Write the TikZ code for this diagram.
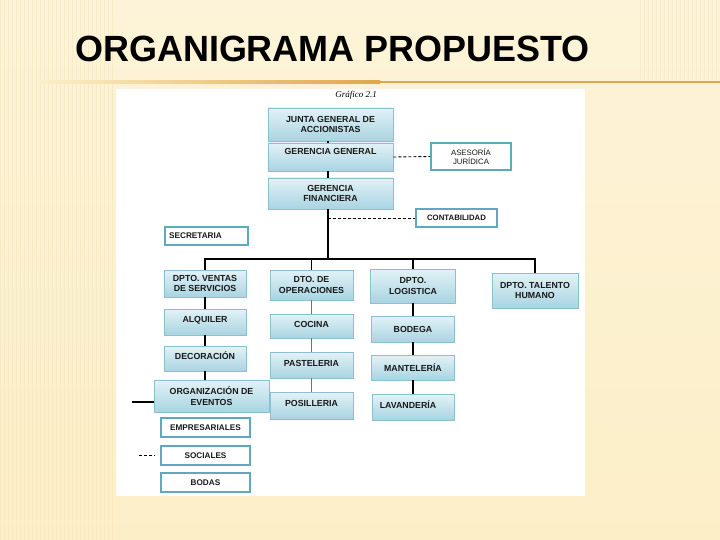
\documentclass[tikz,border=0pt]{standalone}
\usepackage{fontspec}
\setmainfont{Liberation Sans}
\newfontfamily\serifit{Liberation Serif}
\usetikzlibrary{calc}
\definecolor{bgcream}{HTML}{FCEFC8}
\definecolor{bgtop}{HTML}{FDF3D8}
\definecolor{stripe}{HTML}{F3E0B0}
\definecolor{rule}{HTML}{E0A64A}
\definecolor{boxtop}{HTML}{E2F2F7}
\definecolor{boxbot}{HTML}{A9D4E1}
\definecolor{boxline}{HTML}{8CC0D0}
\definecolor{tealline}{HTML}{5FA9BF}
\tikzset{
  orgbox/.style={draw=boxline, line width=0.8pt, top color=boxtop, bottom color=boxbot,
    align=center, font=\fontsize{8.8}{10.5}\selectfont\bfseries, inner sep=1pt,
    text=black!90},
  plainbox/.style={draw=tealline, line width=1.6pt, fill=white,
    align=center, font=\fontsize{8.2}{9.5}\selectfont\bfseries, inner sep=1pt,
    text=black!90},
  link/.style={line width=1.1pt, black},
  glink/.style={line width=1.3pt, black!55},
  mainlink/.style={line width=2pt, black},
  dlink/.style={line width=0.9pt, black, dash pattern=on 3pt off 2pt}
}
\begin{document}
\begin{tikzpicture}[x=1pt,y=-1pt]
\useasboundingbox (0,0) rectangle (720,540);
% background
\shade[top color=bgtop, bottom color=bgcream] (0,0) rectangle (720,540);
\foreach \x in {0,4,...,112} {\draw[stripe, line width=0.5pt, opacity=0.4] (\x,0) -- (\x,540);}
\foreach \x in {640,644,...,720} {\draw[stripe, line width=0.5pt, opacity=0.35] (\x,0) -- (\x,80);}
\shade[left color=bgcream, right color=rule] (40,81) rectangle (380,83.5);
\fill[rule] (380,81) rectangle (720,83.5);
% title
\node[anchor=base west, inner sep=0pt, font=\fontsize{36.5}{40}\selectfont\bfseries, xscale=0.985, text=black] (title) at (75,62) {ORGANIGRAMA PROPUESTO};
% white panel
\fill[white] (116,89) rectangle (585,496);
\node[font=\serifit\itshape\fontsize{9}{10}\selectfont, inner sep=0pt] (graf) at (356,95) {Gráfico 2.1};

% top boxes
\node[orgbox, minimum width=125pt, minimum height=33pt] (junta) at (330.5,124.5) {JUNTA GENERAL DE\\ACCIONISTAS};
\node[orgbox, minimum width=125pt, minimum height=28pt, text depth=11pt] (gg) at (330.5,157) {GERENCIA GENERAL};
\node[orgbox, minimum width=125pt, minimum height=31pt] (gf) at (330.5,193.5) {GERENCIA\\FINANCIERA};
\node[plainbox, font=\fontsize{7.8}{9.5}\selectfont, minimum width=80pt, minimum height=27pt] (ases) at (471,156.5) {ASESORÍA\\JURÍDICA};
\node[plainbox, line width=1.2pt, font=\fontsize{7.8}{9}\selectfont\bfseries, minimum width=81pt, minimum height=18pt] (conta) at (456.5,218) {CONTABILIDAD};
\node[plainbox, line width=1.2pt, minimum width=83pt, minimum height=18pt] (secre) at (206.5,236) {SECRETARIA\hspace{22pt}};

% departments
\node[orgbox, minimum width=82pt, minimum height=27pt] (ventas) at (205,283.5) {DPTO. VENTAS\\DE SERVICIOS};
\node[orgbox, minimum width=83pt, minimum height=30pt] (ope) at (311.5,285) {DTO. DE\\OPERACIONES};
\node[orgbox, minimum width=85pt, minimum height=34pt] (logis) at (413,286) {DPTO.\\LOGISTICA};
\node[orgbox, minimum width=86pt, minimum height=35pt] (talento) at (535,290.5) {DPTO. TALENTO\\HUMANO};

% ventas column
\node[orgbox, minimum width=82pt, minimum height=26pt, text depth=5pt] (alq) at (205,322) {ALQUILER};
\node[orgbox, minimum width=82pt, minimum height=25pt, text depth=5pt] (decor) at (205,358.5) {DECORACIÓN};
\node[orgbox, minimum width=115pt, minimum height=32pt] (org) at (211.5,396) {ORGANIZACIÓN DE\\EVENTOS};
\node[plainbox, line width=1.2pt, minimum width=89pt, minimum height=19pt] (empr) at (205.5,427.5) {EMPRESARIALES};
\node[plainbox, line width=1.2pt, minimum width=89pt, minimum height=19pt] (soc) at (205.5,455.5) {SOCIALES};
\node[plainbox, line width=1.2pt, minimum width=89pt, minimum height=19pt] (bodas) at (205.5,482.5) {BODAS};

% operaciones column
\node[orgbox, minimum width=83pt, minimum height=24pt, text depth=4pt] (cocina) at (311.5,326) {COCINA};
\node[orgbox, minimum width=83pt, minimum height=26pt, text depth=4pt] (pastel) at (311.5,365) {PASTELERIA};
\node[orgbox, minimum width=83pt, minimum height=27pt, text depth=4pt] (posill) at (311.5,405.5) {POSILLERIA};

% logistica column
\node[orgbox, minimum width=83pt, minimum height=26pt] (bodega) at (413,329) {BODEGA};
\node[orgbox, minimum width=83pt, minimum height=25pt] (mantel) at (413,367.5) {MANTELERÍA};
\node[orgbox, minimum width=82pt, minimum height=26pt, text depth=5pt] (lavan) at (413,407) {LAVANDERÍA\hspace{10pt}};

% connectors
\coordinate (hub) at (328,259);
\coordinate (orgL) at (132,402);
\coordinate (socL) at (139,455.5);
\coordinate (socR) at (155,455.5);
\draw[link] (junta.south -| hub) -- (gg.north -| hub);
\draw[mainlink] (gg.south -| hub) -- (gf.north -| hub);
\draw[mainlink] (gf.south -| hub) -- (hub);
\draw[link] (ventas.north) |- (hub) -| (talento.north);
\draw[link] (ope.north) -- (ope.north |- hub);
\draw[link] (logis.north) -- (logis.north |- hub);
\draw[dlink] (gg.east) -- (ases.west);
\draw[dlink] (conta.west -| hub) -- (conta.west);
\draw[link] (ventas.south) -- (alq.north);
\draw[link] (alq.south) -- (decor.north);
\draw[link] (decor.south) -- (decor.south |- org.north);
\draw[link] (orgL) -- (orgL -| org.west);
\draw[dlink] (socL) -- (socR);
\draw[glink] (ope.south) -- (cocina.north);
\draw[glink] (cocina.south) -- (pastel.north);
\draw[glink] (pastel.south) -- (posill.north);
\draw[link] (logis.south) -- (bodega.north);
\draw[link] (bodega.south) -- (mantel.north);
\draw[link] (mantel.south) -- (lavan.north);
\end{tikzpicture}
\end{document}
